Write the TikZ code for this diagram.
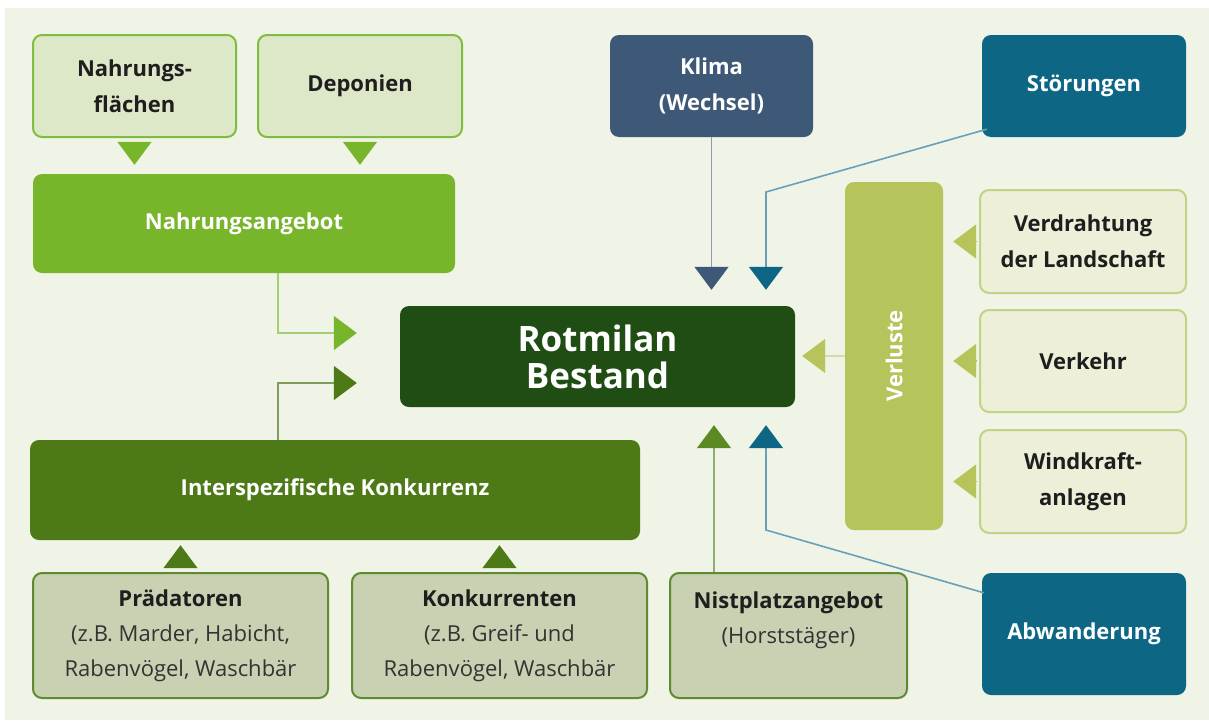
\documentclass[tikz,border=0pt]{standalone}
\usepackage{fontspec}
\setmainfont{Open Sans}
\usetikzlibrary{arrows.meta}

\definecolor{cBg}{HTML}{EFF4E7}
\definecolor{cLight}{HTML}{DDE8C9}
\definecolor{cLightBd}{HTML}{80BD3E}
\definecolor{cNahr}{HTML}{77B52B}
\definecolor{cNahrLn}{HTML}{A6CF75}
\definecolor{cKlima}{HTML}{3E5878}
\definecolor{cKlimaLn}{HTML}{8E9DB2}
\definecolor{cTeal}{HTML}{0D6784}
\definecolor{cTealLn}{HTML}{6A9FB8}
\definecolor{cDark}{HTML}{1F4D14}
\definecolor{cOlive}{HTML}{B7C35B}
\definecolor{cOliveLn}{HTML}{D3DCA4}
\definecolor{cCream}{HTML}{EDEFD8}
\definecolor{cCreamBd}{HTML}{C4D283}
\definecolor{cIK}{HTML}{4D7A17}
\definecolor{cIKLn}{HTML}{7F9B5E}
\definecolor{cGray}{HTML}{C8D1B1}
\definecolor{cGrayBd}{HTML}{5F8A2F}
\definecolor{cNist}{HTML}{5B8A22}
\definecolor{cNistLn}{HTML}{8FAD74}
\definecolor{cInk}{HTML}{1E1E1E}
\definecolor{cSub}{HTML}{333333}

\begin{document}
\begin{tikzpicture}[
    x=1pt, y=-1pt,
    box/.style={rounded corners=9pt, align=center, inner sep=0pt,
        font=\fontsize{22}{36}\selectfont\bfseries},
    lightbox/.style={box, fill=cLight, draw=cLightBd, line width=2pt, text=cInk},
    creambox/.style={box, fill=cCream, draw=cCreamBd, line width=2pt, text=cInk},
    graybox/.style={box, fill=cGray, draw=cGrayBd, line width=2pt, text=cInk,
        font=\fontsize{22}{35}\selectfont},
    darkbox/.style={box, fill=#1, text=white},
    headto/.style={-{Triangle[length=23pt, width=34pt, color=#1]}, line width=1.6pt}
]
    % background
    \useasboundingbox (0,0) rectangle (1209,720);
    \fill[white] (0,0) rectangle (1209,720);
    \fill[cBg] (5,8) rectangle (1209,720);

    % Food
    \node[lightbox, minimum width=203pt, minimum height=102pt] (nf) at (134.5,86) {Nahrungs-\\flächen};
    \node[lightbox, minimum width=204pt, minimum height=102pt] (dp) at (360,86) {Deponien};
    \node[darkbox=cNahr, minimum width=422pt, minimum height=99pt] (na) at (244,223.5) {Nahrungsangebot};

    % Climate and disturbance
    \node[darkbox=cKlima, minimum width=203pt, minimum height=102pt] (kl) at (711.5,86) {Klima\\(Wechsel)};
    \node[darkbox=cTeal, minimum width=204pt, minimum height=102pt] (st) at (1084,86) {Störungen};

    % Population
    \node[darkbox=cDark, minimum width=395pt, minimum height=101pt,
        font=\fontsize{35}{37}\selectfont\bfseries] (rb) at (597.5,356.5) {Rotmilan\\Bestand};

    % Losses
    \node[darkbox=cOlive, minimum width=98pt, minimum height=348pt] (vl) at (894,356) {};
    \node[text=white, rotate=90, font=\fontsize{22}{24}\selectfont\bfseries] (vlt) at (vl.center) {Verluste};
    \node[creambox, minimum width=206pt, minimum height=103pt] (vd) at (1083,241.5) {Verdrahtung\\der Landschaft};
    \node[creambox, minimum width=206pt, minimum height=102pt] (vk) at (1083,361) {Verkehr};
    \node[creambox, minimum width=206pt, minimum height=103pt] (wk) at (1083,481.5) {Windkraft-\\anlagen};

    % Competition
    \node[darkbox=cIK, minimum width=610pt, minimum height=100pt] (ik) at (335,490) {Interspezifische Konkurrenz};
    \node[graybox, minimum width=295pt, minimum height=125pt] (pd) at (180.5,635.5)
        {\textbf{Prädatoren}\\{\color{cSub}(z.B. Marder, Habicht,}\\{\color{cSub}Rabenvögel, Waschbär}};
    \node[graybox, minimum width=295pt, minimum height=125pt] (ko) at (499.5,635.5)
        {\textbf{Konkurrenten}\\{\color{cSub}(z.B. Greif- und}\\{\color{cSub}Rabenvögel, Waschbär}};

    % Nest sites and emigration
    \node[graybox, minimum width=237pt, minimum height=125pt] (np) at (788.5,635.5)
        {\textbf{Nistplatzangebot}\\{\color{cSub}(Horststäger)}\\~};
    \node[darkbox=cTeal, minimum width=204pt, minimum height=122pt] (ab) at (1084,634) {Abwanderung};

    % Bends
    \coordinate (stk) at (766,192);
    \coordinate (abk) at (766,530);

    % Edges
    \draw[headto=cNahr, draw=cNahr, shorten <=5pt, shorten >=9pt] (nf.south) -- (nf.south |- na.north);
    \draw[headto=cNahr, draw=cNahr, shorten <=5pt, shorten >=9pt] (dp.south) -- (dp.south |- na.north);
    \draw[headto=cNahr, draw=cNahrLn, shorten >=43pt] ([xshift=34pt]na.south) |- ([yshift=23.5pt]rb.west);
    \draw[headto=cIK, draw=cIKLn, shorten >=43pt] ([xshift=-57pt]ik.north) |- ([yshift=-26.5pt]rb.west);
    \draw[headto=cKlima, draw=cKlimaLn, shorten >=16pt] (kl.south) -- (kl.south |- rb.north);
    \draw[headto=cTeal, draw=cTealLn, shorten >=16pt] ([xshift=5pt,yshift=8pt]st.south west) -- (stk) -- (stk |- rb.north);
    \draw[headto=cTeal, draw=cTealLn, shorten >=18pt] ([xshift=2pt,yshift=-20pt]ab.north west) -- (abk) -- (abk |- rb.south);
    \draw[headto=cNist, draw=cNistLn, shorten >=18pt] ([xshift=-74.5pt]np.north) -- ([xshift=-74.5pt]np.north |- rb.south);
    \draw[headto=cOlive, draw=cOliveLn, shorten >=7pt] (vl.west) -- (vl.west -| rb.east);
    \foreach \b in {vd,vk,wk}
        \draw[headto=cOlive, draw=cOlive, shorten <=3pt, shorten >=10pt] (\b.west) -- (\b.west -| vl.east);
    \draw[headto=cIK, draw=cIK, shorten <=5pt, shorten >=5pt] (pd.north) -- (pd.north |- ik.south);
    \draw[headto=cIK, draw=cIK, shorten <=5pt, shorten >=5pt] (ko.north) -- (ko.north |- ik.south);
\end{tikzpicture}
\end{document}
